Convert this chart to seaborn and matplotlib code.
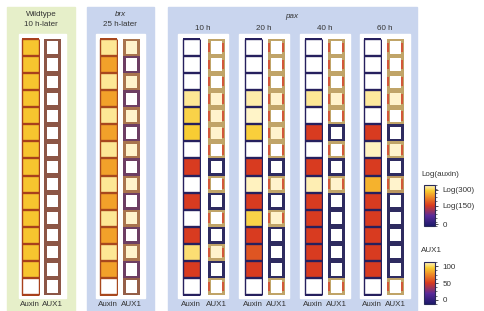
import numpy as np
import pandas as pd
import matplotlib
matplotlib.use("Agg")
import matplotlib.pyplot as plt
import seaborn as sns
from matplotlib.patches import Rectangle
from matplotlib.colors import LinearSegmentedColormap, Normalize
from matplotlib.cm import ScalarMappable
from matplotlib.ticker import MultipleLocator

sns.set_style("white")
plt.rcParams["font.family"] = ["Liberation Sans", "DejaVu Sans"]

nan = np.nan
# ---------------- data (top cell first, 15 cells per file) ----------------
panels = ["Wildtype", "brx", "10 h", "20 h", "40 h", "60 h"]
auxin = {
    "Wildtype": [0.84] * 14 + [nan],
    "brx": [0.95, 0.76] * 7 + [nan],
    "10 h": [nan, nan, nan, 0.95, 0.88, 0.86, nan, 0.5, nan, 0.5, nan, 0.5, 0.92, 0.5, nan],
    "20 h": [nan, nan, nan, 0.97, 1.0, 0.87, nan, 0.5, 0.99, 0.5, 0.88, 0.5, 0.57, 0.5, nan],
    "40 h": [nan, nan, nan, 0.95, nan, 0.5, nan, 0.5, 0.98, 0.5, 0.5, 0.5, 0.5, 0.5, nan],
    "60 h": [nan, nan, nan, 0.96, nan, 0.5, 0.99, 0.5, 0.8, 0.5, 0.5, 0.5, 0.5, 0.5, nan],
}
aux1 = {
    "Wildtype": [0.5] * 15,
    "brx": [0.66, 0.32] * 7 + [0.55],
    "10 h": [.85, .85, .85, .85, .85, .85, .85, .02, .85, .02, .85, .02, .85, .02, .85],
    "20 h": [.85, .85, .85, .85, .85, .85, .85, .02, .85, .02, .85, .02, .02, .02, .85],
    "40 h": [.85, .85, .85, .85, .85, .02, .85, .02, .85, .02, .02, .02, .02, .02, .85],
    "60 h": [.85, .85, .85, .85, .85, .02, .85, .02, .8, .02, .02, .02, .02, .02, .85],
}
# cytosolic tint of AUX1 cells (0 = none, 1 = pale)
aux1_tint = {
    "Wildtype": [0] * 15,
    "brx": [1, 0] * 7 + [0],
    "10 h": [0, 0, 0, 1, 1, 1, 0, 0, 0, 0, 0, 0, 1, 0, 0],
    "20 h": [0, 0, 0, 1, 0, 1, 0, 0, 1, 0, 1, 0, 0, 0, 0],
    "40 h": [0, 0, 0, 1, 0, 0, 0, 0, 1, 0, 0, 0, 0, 0, 0],
    "60 h": [0, 0, 0, 1, 0, 0, 1, 0, 1, 0, 0, 0, 0, 0, 0],
}
auxin_ticks = [0.04, 0.5, 0.88]
auxin_ticklabels = ["0", "Log(150)", "Log(300)"]
aux1_ticks = [0.1, 0.5, 0.9]
aux1_ticklabels = ["0", "50", "100"]

# ---------------- style ----------------
cmap = LinearSegmentedColormap.from_list(
    "aux", [(0, "#1c1a6a"), (0.25, "#5a2a9a"), (0.5, "#d83a20"), (0.72, "#f09028"),
            (0.86, "#f8cc30"), (1.0, "#fff4c8")])
edge_cmap = LinearSegmentedColormap.from_list(
    "edge", [(0, "#2a2a60"), (0.3, "#6a3c66"), (0.5, "#8c5646"), (0.7, "#b07c50"),
             (0.85, "#c0a468"), (1, "#d8c070")])

W, H = 484, 311
fig = plt.figure(figsize=(W / 100, H / 100), dpi=100)


def add_ax(x0, y0, w, h):
    return fig.add_axes([x0 / W, 1 - (y0 + h) / H, w / W, h / H])


bg = add_ax(0, 0, W, H)
bg.set_xlim(0, W)
bg.set_ylim(H, 0)
bg.axis("off")

green, blue = "#e6efc9", "#c9d5ee"
bg.add_patch(Rectangle((7, 7), 68, 304, color=green))
bg.add_patch(Rectangle((87, 7), 67, 304, color=blue))
bg.add_patch(Rectangle((168, 7), 249, 304, color=blue))

txt = dict(fontsize=5.8, color="#333333", ha="center", va="center")
bg.text(41, 15, "Wildtype", **txt)
bg.text(41, 24, "10 h-later", **txt)
bg.text(120, 15, "brx", style="italic", **txt)
bg.text(120, 24, "25 h-later", **txt)
bg.text(292, 17, "pax", style="italic", **txt)

# layout: (white box x, white box width, auxin col x, aux1 col x, auxin edge colour)
layout = {
    "Wildtype": (19, 47, 22, 44, "#a8401c"),
    "brx": (96, 49, 100, 123, "#a8481e"),
    "10 h": (178, 50, 183, 208, "#26205e"),
    "20 h": (239, 50, 245, 268, "#26205e"),
    "40 h": (300, 50, 305, 328, "#26205e"),
    "60 h": (360, 50, 364, 387, "#26205e"),
}
y_top, y_bot = 39, 295
col_w = 16.5

for p in panels:
    bx, bw, ax_x, a1_x, edge = layout[p]
    bg.add_patch(Rectangle((bx, 34), bw, 264, color="white"))
    if p.endswith(" h"):
        bg.text(bx + bw / 2, 28, p, **txt)
    bg.text(ax_x + col_w / 2, 305, "Auxin", **txt)
    bg.text(a1_x + col_w / 2, 305, "AUX1", **txt)

    # auxin file
    ax = add_ax(ax_x - 1, y_top - 1, col_w + 2, y_bot - y_top + 2)
    sns.heatmap(pd.DataFrame({"v": auxin[p]}), ax=ax, cmap=cmap, vmin=0, vmax=1,
                cbar=False, xticklabels=False, yticklabels=False, linewidths=0)
    ax.hlines(np.arange(16), 0, 1, colors=edge, lw=1.7)
    ax.vlines([0, 1], 0, 15, colors=edge, lw=1.0)
    ax.set_xlim(-1 / col_w, 1 + 1 / col_w)
    ax.set_ylim(15 + 15 / 256, -15 / 256)
    ax.axis("off")

    # AUX1 file
    ax = add_ax(a1_x - 1, y_top - 1, col_w + 2, y_bot - y_top + 2)
    sns.heatmap(pd.DataFrame({"v": aux1[p]}), ax=ax, cmap=edge_cmap, vmin=0, vmax=1,
                cbar=False, xticklabels=False, yticklabels=False, linewidths=0)
    for i, (v, t) in enumerate(zip(aux1[p], aux1_tint[p])):
        fill = "#fff3cc" if t else "white"
        if v > 0.6 and p.endswith(" h"):
            ax.add_patch(Rectangle((0.02, i + 0.22), 0.13, 0.56, color="#d2583a", lw=0))
            ax.add_patch(Rectangle((0.85, i + 0.22), 0.13, 0.56, color="#d2583a", lw=0))
        ax.add_patch(Rectangle((0.17, i + 0.14), 0.66, 0.72, color=fill, lw=0))
    ax.set_xlim(-1 / col_w, 1 + 1 / col_w)
    ax.set_ylim(15 + 15 / 256, -15 / 256)
    ax.axis("off")

# ---------------- colour bars ----------------
def colorbar(y0, h, title, ticks, labels):
    bg.text(421, y0 - 11, title, fontsize=5.8, color="#333333", ha="left", va="center")
    cax = add_ax(424, y0, 11, h)
    cb = fig.colorbar(ScalarMappable(norm=Normalize(0, 1), cmap=cmap), cax=cax, ticks=ticks)
    cb.set_ticklabels(labels)
    cb.outline.set_edgecolor("#2a2a5a")
    cb.outline.set_linewidth(0.8)
    cax.yaxis.set_minor_locator(MultipleLocator(0.1))
    cax.tick_params(which="major", labelsize=5.8, length=2.5, width=0.6, pad=3,
                    colors="#333333")
    cax.tick_params(which="minor", length=1.5, width=0.5, colors="#333333")


colorbar(185, 41, "Log(auxin)", auxin_ticks, auxin_ticklabels)
colorbar(262, 42, "AUX1", aux1_ticks, aux1_ticklabels)

fig.savefig("out.png", dpi=100)
